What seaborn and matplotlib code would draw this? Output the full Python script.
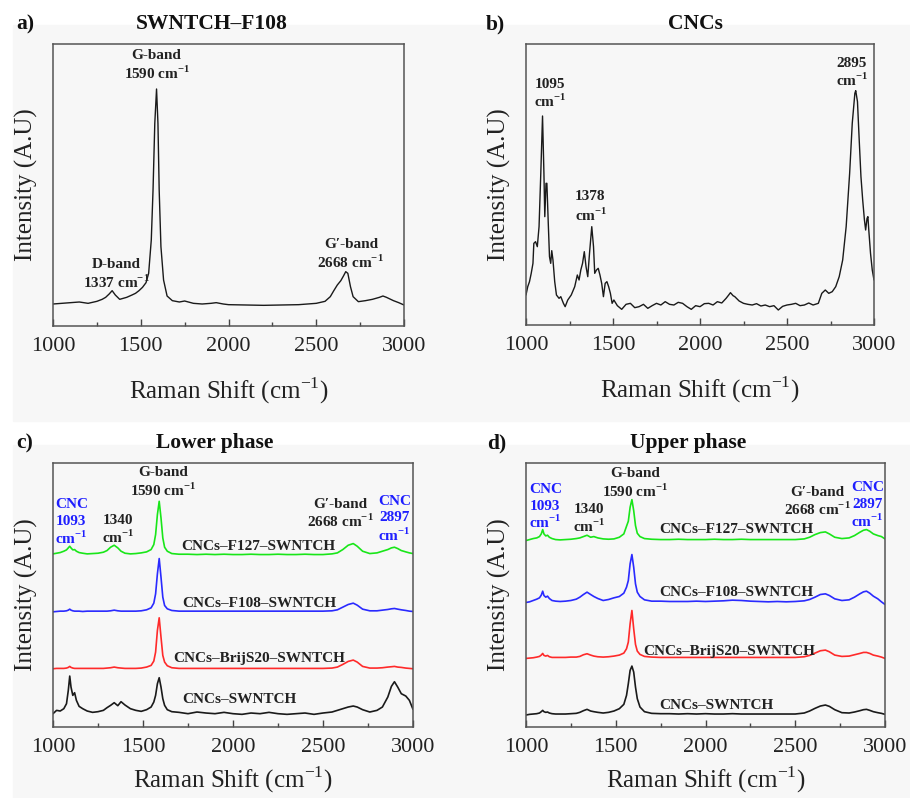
import matplotlib
matplotlib.use("Agg")
import matplotlib.pyplot as plt
from matplotlib.patches import Rectangle
from matplotlib.ticker import MultipleLocator
import seaborn as sns

# --- panel a: SWNTCH-F108 spectrum (arbitrary units) ---
shift_a = [1000, 1100, 1150, 1200, 1250, 1280, 1300, 1320, 1337, 1355, 1380, 1420, 1450, 1470,
           1490, 1510, 1530, 1545, 1560, 1570, 1580, 1590, 1598, 1605, 1615, 1630, 1650, 1680,
           1720, 1750, 1800, 1850, 1900, 1930, 1970, 2000, 2100, 2200, 2300, 2400, 2500, 2550,
           2580, 2600, 2620, 2640, 2655, 2668, 2680, 2695, 2710, 2740, 2780, 2820, 2860, 2880,
           2900, 2940, 2970, 3000]
int_a = [66, 70, 72, 68, 74, 80, 86, 96, 106, 93, 80, 86, 93, 98,
         106, 116, 130, 158, 258, 408, 608, 711, 608, 408, 238, 138, 90, 76,
         72, 75, 68, 66, 68, 70, 66, 64, 63, 62, 63, 64, 68, 74,
         88, 106, 123, 136, 150, 163, 158, 118, 88, 73, 76, 80, 86, 90,
         86, 76, 70, 63]

# --- panel b: CNCs spectrum ---
shift_b = [1000, 1010, 1020, 1030, 1040, 1045, 1055, 1065, 1075, 1085, 1095, 1103, 1108, 1115,
           1120, 1128, 1135, 1142, 1148, 1155, 1165, 1175, 1190, 1200, 1215, 1225, 1240, 1260,
           1280, 1295, 1305, 1315, 1325, 1335, 1345, 1355, 1365, 1378, 1388, 1395, 1405, 1415,
           1425, 1435, 1445, 1455, 1465, 1475, 1485, 1495, 1505, 1525, 1550, 1575, 1600, 1625,
           1650, 1675, 1700, 1725, 1750, 1775, 1800, 1825, 1850, 1875, 1900, 1925, 1950, 1975,
           2000, 2025, 2050, 2075, 2100, 2125, 2150, 2165, 2175, 2190, 2200, 2225, 2250, 2275,
           2300, 2325, 2350, 2375, 2400, 2425, 2450, 2475, 2500, 2525, 2550, 2575, 2600, 2625,
           2650, 2680, 2700, 2720, 2740, 2760, 2780, 2800, 2820, 2840, 2860, 2875, 2890, 2895,
           2905, 2915, 2925, 2935, 2945, 2952, 2960, 2965, 2970, 2980, 2990, 3000]
int_b = [90, 115, 130, 155, 185, 245, 250, 235, 295, 455, 627, 455, 325, 425,
         425, 305, 205, 185, 223, 195, 130, 90, 80, 85, 65, 55, 75, 90,
         115, 150, 135, 165, 185, 220, 175, 145, 215, 295, 235, 155, 165, 170,
         150, 125, 85, 125, 130, 115, 95, 65, 75, 58, 47, 62, 65, 52,
         55, 62, 50, 58, 65, 60, 70, 62, 60, 68, 65, 55, 47, 58,
         55, 64, 65, 60, 70, 66, 80, 90, 97, 88, 85, 72, 65, 62,
         60, 64, 57, 60, 55, 58, 45, 56, 60, 62, 65, 58, 60, 66,
         60, 65, 95, 105, 95, 100, 115, 145, 195, 295, 455, 605, 695, 703,
         670, 555, 445, 375, 315, 285, 320, 325, 285, 215, 165, 135]

# --- panels c and d: shared Raman shift grid ---
shift_cd = [1000, 1020, 1040, 1060, 1075, 1085, 1093, 1100, 1110, 1120, 1130, 1145, 1165, 1190,
            1220, 1250, 1280, 1300, 1320, 1340, 1360, 1378, 1400, 1430, 1460, 1490, 1520, 1545,
            1560, 1570, 1580, 1590, 1600, 1610, 1620, 1635, 1660, 1700, 1750, 1800, 1850, 1900,
            1950, 2000, 2050, 2100, 2150, 2200, 2250, 2300, 2350, 2400, 2450, 2500, 2550, 2580,
            2610, 2640, 2668, 2690, 2720, 2760, 2800, 2830, 2860, 2880, 2897, 2915, 2935, 2960,
            2980, 3000]

samples = ["CNCs\u2013F127\u2013SWNTCH", "CNCs\u2013F108\u2013SWNTCH",
           "CNCs\u2013BrijS20\u2013SWNTCH", "CNCs\u2013SWNTCH"]
sample_colors = ["#19e619", "#2a2aff", "#ff2a2a", "#1a1a1a"]

# lower phase (c)
lower_f127 = [520, 522, 524, 528, 532, 538, 543, 538, 532, 533, 528, 524, 522, 520,
              521, 522, 525, 530, 540, 546, 538, 528, 522, 520, 521, 523, 526, 533,
              548, 578, 638, 678, 628, 568, 540, 528, 521, 519, 519, 518, 519, 518,
              519, 518, 518, 519, 518, 518, 519, 518, 518, 519, 518, 518, 520, 523,
              533, 546, 551, 543, 528, 521, 523, 528, 533, 538, 540, 536, 530, 526,
              523, 521]
lower_f108 = [346, 347, 348, 348, 349, 351, 354, 351, 349, 348, 348, 348, 347, 348,
              348, 348, 348, 348, 349, 351, 349, 348, 348, 348, 348, 349, 352, 358,
              372, 400, 460, 506, 450, 390, 365, 355, 350, 348, 348, 348, 348, 348,
              348, 348, 348, 348, 348, 348, 348, 348, 348, 348, 348, 348, 349, 352,
              360, 368, 372, 366, 354, 349, 349, 351, 353, 355, 356, 354, 352, 350,
              348, 347]
lower_brij = [175, 176, 176, 176, 177, 179, 182, 179, 177, 176, 176, 176, 176, 176,
              176, 176, 176, 177, 178, 180, 178, 177, 176, 176, 176, 177, 180, 185,
              198, 225, 290, 328, 270, 215, 195, 184, 178, 176, 176, 176, 176, 176,
              176, 176, 176, 176, 176, 176, 176, 176, 176, 176, 176, 176, 177, 180,
              188, 197, 201, 195, 182, 177, 177, 178, 180, 181, 182, 180, 179, 177,
              176, 175]
lower_cnc = [40, 50, 48, 55, 70, 110, 153, 120, 95, 103, 80, 62, 55, 48,
             44, 46, 50, 58, 65, 73, 64, 76, 66, 55, 50, 47, 52, 60,
             75, 95, 130, 148, 120, 85, 65, 52, 46, 44, 40, 45, 42, 40,
             44, 40, 38, 42, 40, 44, 40, 38, 40, 42, 38, 42, 45, 50,
             55, 60, 63, 60, 52, 45, 50, 60, 90, 122, 136, 120, 100, 93,
             80, 53]

# upper phase (d)
upper_f127 = [560, 563, 566, 568, 572, 580, 593, 580, 574, 576, 570, 566, 563, 562,
              563, 564, 566, 568, 572, 576, 570, 572, 568, 565, 564, 565, 570, 580,
              603, 618, 660, 683, 650, 605, 582, 572, 566, 564, 563, 563, 564, 563,
              563, 563, 564, 563, 563, 564, 563, 563, 563, 563, 563, 563, 565, 570,
              578, 584, 586, 580, 570, 566, 568, 575, 585, 591, 593, 588, 580, 575,
              572, 565]
upper_f108 = [374, 376, 380, 384, 388, 396, 408, 395, 390, 393, 386, 380, 378, 377,
              378, 380, 384, 390, 398, 405, 398, 392, 386, 380, 383, 388, 392, 402,
              420, 440, 490, 518, 480, 430, 405, 392, 382, 378, 378, 377, 377, 377,
              378, 377, 378, 379, 381, 380, 378, 377, 376, 377, 376, 377, 379, 383,
              390, 398, 400, 395, 385, 380, 382, 390, 400, 406, 408, 402, 393, 385,
              376, 368]
upper_brij = [206, 207, 208, 210, 212, 216, 221, 215, 213, 215, 211, 209, 209, 209,
              209, 210, 210, 212, 217, 220, 216, 213, 211, 210, 211, 213, 216, 222,
              235, 255, 310, 350, 295, 248, 228, 218, 212, 210, 209, 209, 209, 209,
              209, 209, 209, 209, 209, 209, 209, 209, 209, 209, 209, 209, 211, 215,
              222, 229, 231, 226, 216, 212, 213, 217, 221, 224, 224, 221, 216, 213,
              210, 206]
upper_cnc = [36, 38, 39, 40, 42, 46, 50, 46, 44, 45, 42, 40, 39, 39,
             39, 40, 41, 44, 49, 53, 48, 46, 44, 42, 44, 48, 55, 68,
             95, 130, 170, 183, 165, 120, 85, 60, 46, 41, 40, 40, 39, 40,
             39, 40, 39, 39, 40, 39, 39, 39, 39, 39, 39, 39, 42, 48,
             56, 63, 66, 62, 52, 43, 42, 45, 49, 52, 53, 50, 46, 43,
             41, 38]

sns.set_theme(style="ticks")
plt.rcParams["font.family"] = ["Liberation Serif", "DejaVu Serif"]
plt.rcParams["mathtext.fontset"] = "custom"
plt.rcParams["mathtext.rm"] = "Liberation Serif"
plt.rcParams["mathtext.bf"] = "Liberation Serif:bold"

fig = plt.figure(figsize=(9.1, 7.98), dpi=100)
fig.patch.set_facecolor("white")
bg = "#f7f7f7"
fig.patches.append(Rectangle((13 / 910, 1 - 421 / 798), 1, 396 / 798, transform=fig.transFigure,
                             color=bg, zorder=-10))
fig.patches.append(Rectangle((13 / 910, 0), 1, 353 / 798, transform=fig.transFigure,
                             color=bg, zorder=-10))

ax_a = fig.add_axes([53 / 910, 1 - 326 / 798, 351 / 910, 282 / 798])
ax_b = fig.add_axes([526 / 910, 1 - 325 / 798, 348 / 910, 281 / 798])
ax_c = fig.add_axes([53 / 910, 1 - 727 / 798, 360 / 910, 264 / 798])
ax_d = fig.add_axes([526 / 910, 1 - 727 / 798, 359 / 910, 264 / 798])

sns.lineplot(x=shift_a, y=int_a, ax=ax_a, color="#1a1a1a", lw=1.0, estimator=None, sort=False)
sns.lineplot(x=shift_b, y=int_b, ax=ax_b, color="#1a1a1a", lw=1.0, estimator=None, sort=False)
for vals, col in zip([lower_f127, lower_f108, lower_brij, lower_cnc], sample_colors):
    sns.lineplot(x=shift_cd, y=vals, ax=ax_c, color=col, lw=1.2, estimator=None, sort=False)
for vals, col in zip([upper_f127, upper_f108, upper_brij, upper_cnc], sample_colors):
    sns.lineplot(x=shift_cd, y=vals, ax=ax_d, color=col, lw=1.2, estimator=None, sort=False)

ylims = {ax_a: 846, ax_b: 843, ax_c: 793, ax_d: 793}
for ax, top in ylims.items():
    ax.set_facecolor("none")
    ax.set_xlim(1000, 3000)
    ax.set_ylim(0, top)
    ax.set_yticks([])
    ax.xaxis.set_major_locator(MultipleLocator(500))
    ax.xaxis.set_minor_locator(MultipleLocator(250))
    ax.tick_params(axis="x", which="major", direction="in", length=5, width=1,
                   labelsize=16, pad=8, colors="#444444", labelcolor="#222222")
    ax.tick_params(axis="x", which="minor", direction="in", length=3, width=1, colors="#444444")
    for s in ax.spines.values():
        s.set_visible(True)
        s.set_color("#555555")
        s.set_linewidth(1.1)
    pad = 14 if ax in (ax_a, ax_b) else 5
    ax.set_xlabel("Raman Shift (cm$^{-1}$)", fontsize=18, labelpad=pad, color="#222222")
    ax.set_ylabel("Intensity (A.U)", fontsize=18, labelpad=11, color="#222222")

ann = dict(ha="center", va="center", fontsize=11, fontweight="bold", color="#222222")
cm = "cm$^{\\mathbf{-1}}$"

# panel a labels
for x, y, t in [(1590, 813, "G-band"), (1592, 758, "1590 " + cm),
                (1362, 186, "D-band"), (1360, 131, "1337 " + cm),
                (2699, 246, "G\u2032-band"), (2697, 192, "2668 " + cm)]:
    ax_a.text(x, y, t, **ann)

# panel b labels
for x, y, t in [(1140, 720, "1095"), (1140, 670, cm), (1370, 385, "1378"), (1372, 330, cm),
                (2872, 785, "2895"), (2872, 735, cm)]:
    ax_b.text(x, y, t, **ann)

blue_txt = "#1f1fff"
label_sets = {
    ax_c: [(1102, 668, "CNC", blue_txt), (1102, 618, "1093", blue_txt), (1102, 568, cm, blue_txt),
           (1362, 620, "1340", None), (1362, 571, cm, None),
           (1612, 763, "G-band", None), (1612, 710, "1590 " + cm, None),
           (2595, 668, "G\u2032-band", None), (2595, 618, "2668 " + cm, None),
           (2898, 678, "CNC", blue_txt), (2898, 628, "2897", blue_txt), (2898, 576, cm, blue_txt)],
    ax_d: [(1108, 713, "CNC", blue_txt), (1108, 663, "1093", blue_txt), (1108, 615, cm, blue_txt),
           (1350, 653, "1340", None), (1350, 603, cm, None),
           (1610, 760, "G-band", None), (1610, 708, "1590 " + cm, None),
           (2623, 703, "G\u2032-band", None), (2623, 653, "2668 " + cm, None),
           (2902, 718, "CNC", blue_txt), (2902, 668, "2897", blue_txt), (2902, 618, cm, blue_txt)],
}
for ax, items in label_sets.items():
    for x, y, t, c in items:
        kw = dict(ann)
        if c:
            kw["color"] = c
        ax.text(x, y, t, **kw)

sample_pos_c = [(2141, 543), (2146, 371), (2146, 205), (2033, 83)]
sample_pos_d = [(2171, 593), (2171, 405), (2134, 228), (2058, 66)]
for name, (x, y) in zip(samples, sample_pos_c):
    ax_c.text(x, y, name, **ann)
for name, (x, y) in zip(samples, sample_pos_d):
    ax_d.text(x, y, name, **ann)

# titles and panel letters
title_kw = dict(ha="center", va="center", fontsize=15.5, fontweight="bold", color="#111111")
fig.text(212 / 910, 1 - 24 / 798, "SWNTCH\u2013F108", **title_kw)
fig.text(695 / 910, 1 - 24 / 798, "CNCs", **title_kw)
fig.text(215 / 910, 1 - 443 / 798, "Lower phase", **title_kw)
fig.text(688 / 910, 1 - 443 / 798, "Upper phase", **title_kw)
for x, y, t in [(25, 24, "a)"), (495, 24, "b)"), (25, 443, "c)"), (497, 443, "d)")]:
    fig.text(x / 910, 1 - y / 798, t, **title_kw)

fig.savefig("out.png", dpi=100)
